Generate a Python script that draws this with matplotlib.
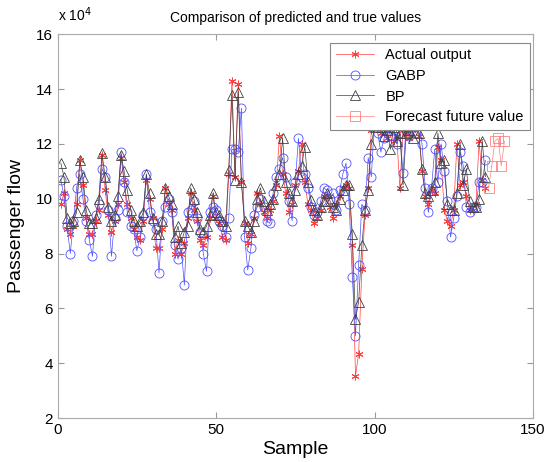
import numpy as np
import matplotlib
matplotlib.use('Agg')
import matplotlib.pyplot as plt

plt.rcParams['font.family'] = ['Liberation Sans', 'DejaVu Sans']

# passenger flow, unit: 10^4
sample = np.arange(1, 136)
actual = [9.8, 10.2, 8.9, 8.7, 9.0, 9.8, 11.4, 10.5, 9.3, 8.7,
          8.7, 9.2, 9.6, 11.6, 10.3, 9.4, 8.8, 9.2, 9.8, 11.5,
          10.6, 9.8, 9.3, 8.9, 8.6, 8.5, 9.2, 10.7, 10.0, 9.3,
          8.2, 8.2, 8.9, 10.4, 9.8, 9.6, 8.0, 8.5, 8.0, 8.4,
          9.3, 10.2, 9.6, 9.2, 8.5, 8.3, 8.6, 9.3, 10.1, 9.3,
          9.1, 8.6, 8.5, 10.9, 14.3, 10.8, 14.2, 10.6, 9.1, 8.4,
          8.7, 9.3, 10.2, 9.8, 9.5, 9.3, 9.6, 9.9, 10.5, 12.3,
          10.9, 10.2, 9.5, 9.8, 10.5, 11.0, 12.0, 10.6, 9.8, 9.6,
          9.1, 9.3, 9.6, 10.1, 10.1, 9.7, 9.3, 9.8, 10.1, 10.4,
          10.5, 10.4, 8.3, 3.55, 4.35, 7.45, 9.4, 10.4, 12.5, 12.6,
          12.9, 12.4, 12.7, 12.2, 12.8, 12.1, 12.3, 10.4, 12.5, 12.4,
          12.2, 12.9, 12.6, 12.3, 11.0, 10.1, 9.8, 10.3, 10.2, 11.9,
          11.4, 9.6, 9.2, 9.0, 9.6, 12.0, 10.5, 10.6, 10.1, 9.6,
          9.6, 9.8, 12.1, 10.7, 10.4]
gabp = [10.7, 10.1, 9.0, 8.0, 9.2, 10.4, 10.9, 10.0, 9.2, 8.5,
        7.9, 9.4, 9.8, 11.1, 10.8, 9.6, 7.9, 9.3, 9.6, 11.7,
        10.6, 9.5, 9.0, 8.9, 8.1, 8.6, 9.4, 10.9, 9.5, 9.2,
        8.9, 7.3, 9.2, 9.7, 10.0, 9.5, 8.3, 7.8, 8.2, 6.85,
        9.5, 9.6, 9.9, 9.3, 8.8, 8.0, 7.35, 9.5, 9.7, 9.6,
        9.2, 9.0, 8.6, 9.3, 11.8, 11.8, 11.7, 13.3, 8.6, 7.4,
        8.2, 9.4, 9.7, 10.0, 9.7, 9.2, 9.1, 10.2, 10.8, 11.1,
        11.5, 10.8, 9.9, 9.2, 10.6, 12.2, 10.8, 10.9, 10.4, 9.7,
        9.4, 9.5, 9.9, 10.4, 10.3, 10.0, 10.2, 9.6, 10.3, 10.9,
        11.3, 9.8, 7.15, 5.0, 7.6, 9.8, 9.6, 11.5, 10.8, 12.9,
        12.4, 11.7, 12.2, 12.6, 12.3, 12.5, 12.0, 12.4, 10.95, 12.7,
        12.3, 12.6, 12.4, 12.8, 12.0, 10.4, 9.5, 10.4, 11.8, 10.6,
        12.0, 11.0, 9.9, 8.6, 9.3, 10.1, 11.7, 11.2, 9.7, 9.5,
        9.7, 9.7, 10.6, 10.6, 11.4]
bp = [11.3, 10.8, 9.3, 9.1, 9.2, 9.5, 11.4, 10.8, 9.6, 9.1,
      9.1, 9.3, 10.0, 11.65, 10.8, 9.7, 9.2, 9.4, 10.1, 11.6,
      11.0, 10.3, 9.6, 9.2, 9.0, 9.2, 9.5, 10.9, 10.2, 9.3,
      8.7, 8.7, 9.2, 10.4, 10.1, 9.8, 8.6, 9.0, 8.4, 8.8,
      9.0, 10.4, 10.0, 9.5, 8.9, 8.8, 9.0, 9.4, 10.2, 9.5,
      9.4, 9.2, 9.0, 11.05, 13.8, 10.7, 13.9, 10.6, 9.2, 9.0,
      8.8, 9.2, 10.0, 10.4, 9.9, 9.6, 9.8, 10.0, 10.5, 10.9,
      12.2, 10.6, 10.2, 9.9, 10.3, 10.9, 11.2, 11.9, 10.6, 9.95,
      9.6, 9.4, 9.7, 9.9, 10.2, 9.9, 9.7, 9.6, 10.0, 10.3,
      10.5, 10.5, 8.7, 5.6, 6.25, 8.3, 9.6, 10.3, 12.0, 12.6,
      12.9, 12.6, 12.3, 12.5, 11.8, 12.6, 12.1, 12.4, 10.5, 12.4,
      12.5, 12.2, 12.7, 12.4, 11.1, 10.2, 10.1, 10.3, 10.6, 12.4,
      11.3, 11.4, 9.8, 9.6, 9.6, 10.2, 12.0, 10.5, 11.1, 9.9,
      9.7, 9.7, 10.0, 12.1, 10.8]
future_x = [136, 137, 138, 139, 140, 141]
future = [10.4, 11.2, 12.1, 12.2, 11.2, 12.1]

fig = plt.figure(figsize=(5.54, 4.62), dpi=100)
ax = fig.add_axes([0.104, 0.095, 0.858, 0.831])

# MATLAB style asterisk marker
star = (6, 2, 0)
ax.plot(sample, actual, '-', marker=star, color='#ff4040', lw=0.5, ms=5.5,
        mew=0.7, label='Actual output')
ax.plot(sample, gabp, '-o', color='#5050ff', lw=0.5, ms=6.5, mew=0.6,
        mfc='none', label='GABP')
ax.plot(sample, bp, '-^', color='#404040', lw=0.5, ms=7.5, mew=0.6,
        mfc='none', label='BP')
ax.plot(future_x, future, '-s', color='#ff8080', lw=0.5, ms=7, mew=0.6,
        mfc='none', label='Forecast future value')

ax.set_xlim(0, 150)
ax.set_ylim(2, 16)
ax.set_xticks([0, 50, 100, 150])
ax.set_yticks(range(2, 17, 2))
ax.tick_params(direction='in', top=True, right=True, labelsize=11,
               color='#999999', length=4)
for s in ax.spines.values():
    s.set_color('#aaaaaa')
    s.set_linewidth(0.8)

ax.set_title('Comparison of predicted and true values', fontsize=10, pad=9)
ax.set_xlabel('Sample', fontsize=14, labelpad=3)
ax.set_ylabel('Passenger flow', fontsize=14, labelpad=8)
ax.text(0.0, 1.035, r'x 10$^4$', transform=ax.transAxes, fontsize=10)

leg = ax.legend(loc='upper right', bbox_to_anchor=(0.993, 0.978),
                borderaxespad=0, fontsize=10.5, fancybox=False,
                framealpha=1, handlelength=2.6, labelspacing=0.45)
leg.get_frame().set_edgecolor('#888888')
leg.get_frame().set_linewidth(0.8)

fig.savefig('out.png', dpi=100)
